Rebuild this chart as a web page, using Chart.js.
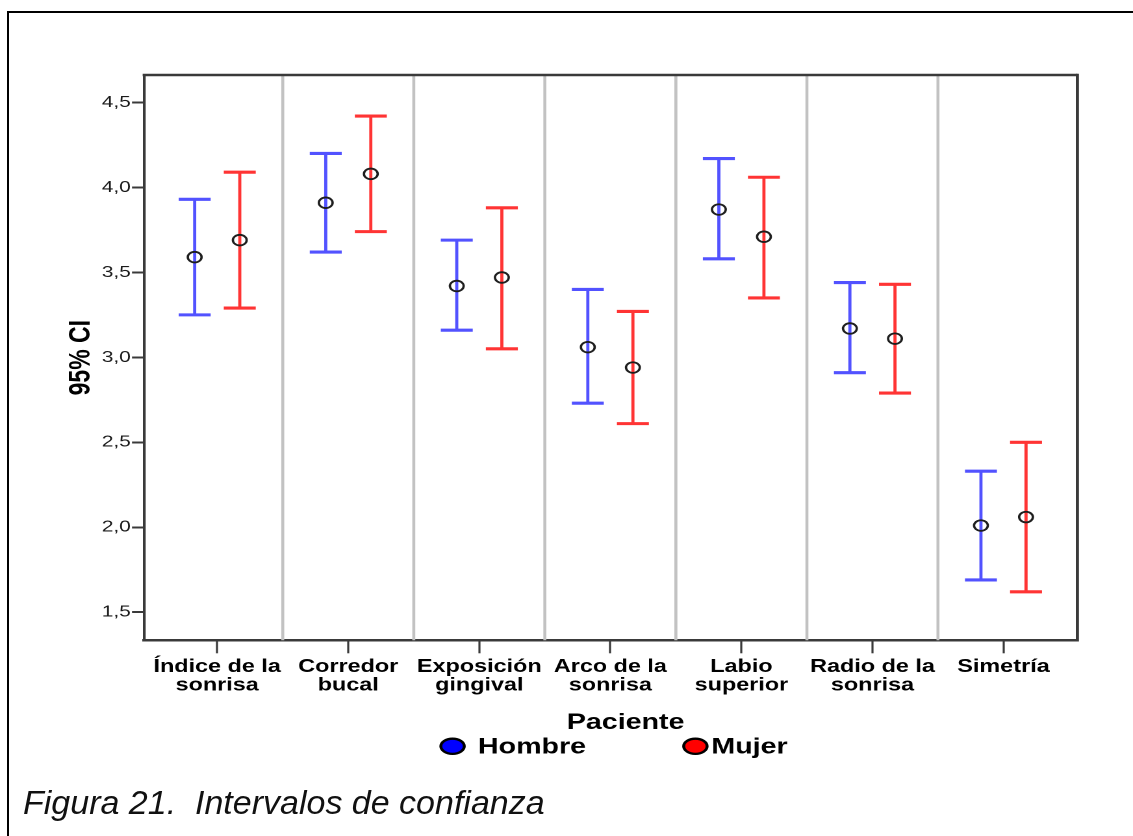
<!DOCTYPE html>
<html lang="es">
<head>
<meta charset="utf-8">
<title>Intervalos de confianza</title>
<script src="https://cdn.jsdelivr.net/npm/chart.js@4.4.1/dist/chart.umd.min.js"></script>
<style>
  html, body { margin: 0; padding: 0; background: #fff; }
  body { width: 1133px; height: 836px; position: relative; overflow: hidden; }
  #frame {
    position: absolute; left: 7px; top: 11px; right: -10px; bottom: -10px;
    border-left: 2px solid #000; border-top: 2px solid #000;
  }
  /* the plot is drawn at a narrower width and widened horizontally */
  #stage {
    position: absolute; left: 0; top: 0; width: 872px; height: 836px;
    transform: scaleX(1.2993); transform-origin: 0 0;
  }
  #stage canvas { display: block; }
  #caption {
    position: absolute; left: 23px; top: 785px; white-space: pre;
    font-family: "Liberation Sans", Arial, sans-serif; font-style: italic;
    font-size: 34px; line-height: 34px; color: #111;
  }
</style>
</head>
<body>
<div id="frame"></div>
<div id="stage"><canvas id="chart" width="872" height="836" style="width:872px;height:836px"></canvas></div>
<div id="caption">Figura 21.  Intervalos de confianza</div>
<script>
// Categories (two-line labels) and axis ticks
const categories = [
  ['Índice de la', 'sonrisa'],
  ['Corredor', 'bucal'],
  ['Exposición', 'gingival'],
  ['Arco de la', 'sonrisa'],
  ['Labio', 'superior'],
  ['Radio de la', 'sonrisa'],
  ['Simetría']
];
const yTicks = [1.5, 2.0, 2.5, 3.0, 3.5, 4.0, 4.5];
const seriesNames = ['Hombre', 'Mujer'];
const legendTitle = 'Paciente';

// Mean and 95% confidence limits per category
const hombreMedia    = [3.59, 3.91, 3.42, 3.06, 3.87, 3.17, 2.01];
const hombreInferior = [3.25, 3.62, 3.16, 2.73, 3.58, 2.91, 1.69];
const hombreSuperior = [3.93, 4.20, 3.69, 3.40, 4.17, 3.44, 2.33];

const mujerMedia     = [3.69, 4.08, 3.47, 2.94, 3.71, 3.11, 2.06];
const mujerInferior  = [3.29, 3.74, 3.05, 2.61, 3.35, 2.79, 1.62];
const mujerSuperior  = [4.09, 4.42, 3.88, 3.27, 4.06, 3.43, 2.50];

const FONT = '"Liberation Sans", Arial, Helvetica, sans-serif';
const FRAME = '#3a3a3a';
const GROUP_SHIFT = 0.172;   // horizontal shift of each group inside its category
const CAP = 12.3;            // half width of the whisker caps

function buildSeries(means, shift) {
  return means.map((m, i) => ({ x: i + shift, y: m }));
}

// Whiskers, category separators and the closing frame of the plot
const errorBars = {
  id: 'errorBars',
  beforeDatasetsDraw(chart) {
    const { ctx, chartArea, scales: { x, y } } = chart;
    ctx.save();
    ctx.strokeStyle = '#c2c2c2';
    ctx.lineWidth = 2.3;
    for (let i = 0; i < categories.length - 1; i++) {
      const px = x.getPixelForValue(i + 0.5);
      ctx.beginPath();
      ctx.moveTo(px, chartArea.top);
      ctx.lineTo(px, chartArea.bottom);
      ctx.stroke();
    }
    chart.data.datasets.forEach(ds => {
      ctx.strokeStyle = ds.barColor;
      ds.data.forEach((pt, i) => {
        const px = x.getPixelForValue(pt.x);
        const lo = y.getPixelForValue(ds.low[i]);
        const hi = y.getPixelForValue(ds.high[i]);
        ctx.lineWidth = 2.4;
        ctx.beginPath();
        ctx.moveTo(px, lo);
        ctx.lineTo(px, hi);
        ctx.stroke();
        ctx.lineWidth = 3.1;
        ctx.beginPath();
        ctx.moveTo(px - CAP, hi); ctx.lineTo(px + CAP, hi);
        ctx.moveTo(px - CAP, lo); ctx.lineTo(px + CAP, lo);
        ctx.stroke();
      });
    });
    ctx.restore();
  },
  afterDatasetsDraw(chart) {
    const { ctx, chartArea: a } = chart;
    ctx.save();
    ctx.strokeStyle = FRAME;
    ctx.lineWidth = 2.5;
    ctx.beginPath();
    ctx.moveTo(a.left - 1, a.top);
    ctx.lineTo(a.right, a.top);
    ctx.stroke();
    ctx.lineWidth = 2.4;
    ctx.beginPath();
    ctx.moveTo(a.right, a.top - 1.2);
    ctx.lineTo(a.right, a.bottom + 1.2);
    ctx.stroke();
    ctx.restore();
  }
};

// Legend under the axis: title and one oval marker per group
const legendPaciente = {
  id: 'legendPaciente',
  afterDraw(chart) {
    const ctx = chart.ctx;
    const slots = [
      { marker: 348.3, text: 367.9 },
      { marker: 535.2, text: 547.5 }
    ];
    ctx.save();
    ctx.fillStyle = '#000';
    ctx.textBaseline = 'alphabetic';
    ctx.font = 'bold 22px ' + FONT;
    ctx.textAlign = 'center';
    ctx.fillText(legendTitle, 481.5, 729);
    ctx.font = 'bold 22px ' + FONT;
    chart.data.datasets.forEach((ds, i) => {
      const s = slots[i];
      ctx.beginPath();
      ctx.ellipse(s.marker, 746.3, 9.0, 7.6, 0, 0, Math.PI * 2);
      ctx.fillStyle = ds.legendColor;
      ctx.fill();
      ctx.lineWidth = 2.3;
      ctx.strokeStyle = '#000';
      ctx.stroke();
      ctx.fillStyle = '#000';
      ctx.textAlign = 'left';
      ctx.fillText(ds.label, s.text, 753.5);
    });
    ctx.restore();
  }
};

const ctx = document.getElementById('chart').getContext('2d');
new Chart(ctx, {
  type: 'scatter',
  data: {
    datasets: [
      {
        label: seriesNames[0],
        data: buildSeries(hombreMedia, -GROUP_SHIFT),
        low: hombreInferior,
        high: hombreSuperior,
        barColor: '#5252ff',
        legendColor: '#0000ff',
        pointStyle: 'circle',
        pointRadius: 5.3,
        pointBorderWidth: 1.8,
        pointBorderColor: '#1e1e1e',
        pointBackgroundColor: 'rgba(0,0,0,0)',
        showLine: false
      },
      {
        label: seriesNames[1],
        data: buildSeries(mujerMedia, GROUP_SHIFT),
        low: mujerInferior,
        high: mujerSuperior,
        barColor: '#ff3434',
        legendColor: '#ff0000',
        pointStyle: 'circle',
        pointRadius: 5.3,
        pointBorderWidth: 1.8,
        pointBorderColor: '#1e1e1e',
        pointBackgroundColor: 'rgba(0,0,0,0)',
        showLine: false
      }
    ]
  },
  options: {
    responsive: false,
    devicePixelRatio: 2,
    animation: false,
    events: [],
    layout: { padding: { top: 75, right: 42.8, left: 0, bottom: 0 } },
    plugins: {
      legend: { display: false },
      tooltip: { enabled: false }
    },
    scales: {
      x: {
        type: 'linear',
        min: -0.559,
        max: 6.564,
        afterBuildTicks(scale) {
          scale.ticks = categories.map((_, i) => ({ value: i }));
        },
        afterFit(scale) { scale.height = 195.7; },
        ticks: {
          autoSkip: false,
          maxRotation: 0,
          minRotation: 0,
          padding: 4.5,
          color: '#000',
          font: { family: FONT, size: 18, weight: 'bold', lineHeight: 1.03 },
          callback: (v) => categories[Math.round(v)]
        },
        grid: {
          drawOnChartArea: false,
          drawTicks: true,
          tickLength: 13,
          tickWidth: 1.6,
          tickColor: FRAME
        },
        border: { display: true, color: FRAME, width: 2.5 }
      },
      y: {
        type: 'linear',
        min: 1.3346,
        max: 4.6619,
        afterBuildTicks(scale) {
          scale.ticks = yTicks.map(v => ({ value: v }));
        },
        afterFit(scale) { scale.width = 110.8; },
        ticks: {
          padding: 1,
          color: '#1a1a1a',
          font: { family: FONT, size: 16 },
          callback: (v) => v.toFixed(1).replace('.', ',')
        },
        grid: {
          drawOnChartArea: false,
          drawTicks: true,
          tickLength: 9.2,
          tickWidth: 2,
          tickColor: FRAME
        },
        border: { display: true, color: FRAME, width: 2.1 },
        title: {
          display: true,
          text: '95% CI',
          color: '#000',
          font: { family: FONT, size: 23, weight: 'bold', lineHeight: 1.2 },
          padding: { top: 48.7, bottom: 0 }
        }
      }
    }
  },
  plugins: [errorBars, legendPaciente]
});
</script>
</body>
</html>
